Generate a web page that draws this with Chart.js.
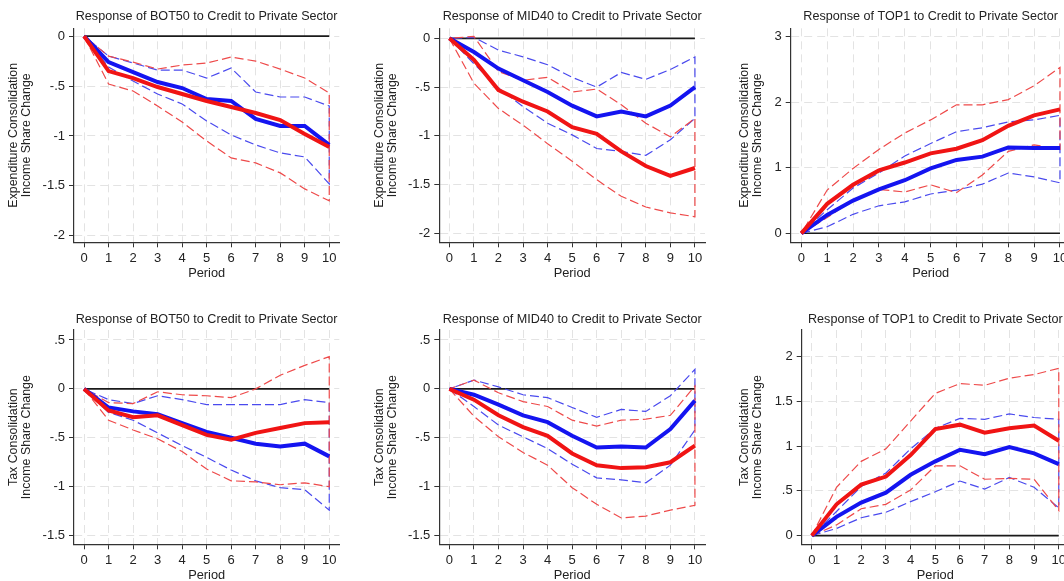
<!DOCTYPE html>
<html>
<head>
<meta charset="utf-8">
<script src="https://cdn.jsdelivr.net/npm/chart.js@4"></script>
<style>
  html, body { margin: 0; padding: 0; background: #fff; width: 1064px; height: 581px; overflow: hidden; }
  .panel { position: absolute; }
</style>
</head>
<body>
<canvas class="panel" id="p1"></canvas>
<canvas class="panel" id="p2"></canvas>
<canvas class="panel" id="p3"></canvas>
<canvas class="panel" id="p4"></canvas>
<canvas class="panel" id="p5"></canvas>
<canvas class="panel" id="p6"></canvas>
<script>
// periodes de la reponse impulsionnelle
var periods = [0, 1, 2, 3, 4, 5, 6, 7, 8, 9, 10];
var xTicks = [0, 1, 2, 3, 4, 5, 6, 7, 8, 9, 10];

// graduations y
var yTicksExp = [0, -0.5, -1, -1.5, -2];
var yLabelsExp = ['0', '-.5', '-1', '-1.5', '-2'];
var yTicksExpTop1 = [0, 1, 2, 3];
var yLabelsExpTop1 = ['0', '1', '2', '3'];
var yTicksTax = [0.5, 0, -0.5, -1, -1.5];
var yLabelsTax = ['.5', '0', '-.5', '-1', '-1.5'];
var yTicksTaxTop1 = [0, 0.5, 1, 1.5, 2];
var yLabelsTaxTop1 = ['0', '.5', '1', '1.5', '2'];

// Expenditure consolidation - BOT50
var expBot50Blue   = [0, -0.26, -0.36, -0.46, -0.52, -0.63, -0.65, -0.83, -0.90, -0.90, -1.09];
var expBot50BlueHi = [0, -0.20, -0.27, -0.34, -0.34, -0.42, -0.32, -0.56, -0.61, -0.61, -0.70];
var expBot50BlueLo = [0, -0.31, -0.45, -0.58, -0.68, -0.85, -0.99, -1.09, -1.17, -1.21, -1.48];
var expBot50Red    = [0, -0.35, -0.42, -0.51, -0.58, -0.65, -0.71, -0.77, -0.84, -0.98, -1.11];
var expBot50RedHi  = [0, -0.20, -0.26, -0.33, -0.29, -0.27, -0.21, -0.25, -0.33, -0.42, -0.57];
var expBot50RedLo  = [0, -0.48, -0.55, -0.70, -0.86, -1.05, -1.22, -1.27, -1.37, -1.53, -1.65];

// Expenditure consolidation - MID40
var expMid40Blue   = [0, -0.14, -0.31, -0.43, -0.55, -0.69, -0.80, -0.75, -0.80, -0.69, -0.50];
var expMid40BlueHi = [0, 0.01, -0.12, -0.19, -0.27, -0.40, -0.50, -0.35, -0.42, -0.32, -0.19];
var expMid40BlueLo = [0, -0.26, -0.51, -0.70, -0.87, -0.99, -1.13, -1.16, -1.20, -1.04, -0.82];
var expMid40Red    = [0, -0.22, -0.53, -0.65, -0.75, -0.91, -0.98, -1.16, -1.31, -1.41, -1.33];
var expMid40RedHi  = [0, 0.02, -0.34, -0.43, -0.40, -0.55, -0.52, -0.68, -0.87, -1.01, -0.82];
var expMid40RedLo  = [0, -0.46, -0.72, -0.89, -1.08, -1.26, -1.45, -1.62, -1.73, -1.79, -1.83];

// Expenditure consolidation - TOP1
var expTop1Blue   = [0, 0.28, 0.50, 0.67, 0.81, 0.99, 1.12, 1.17, 1.31, 1.30, 1.30];
var expTop1BlueHi = [0, 0.36, 0.69, 0.92, 1.18, 1.37, 1.55, 1.61, 1.70, 1.73, 1.80];
var expTop1BlueLo = [0, 0.10, 0.29, 0.42, 0.48, 0.60, 0.66, 0.75, 0.92, 0.86, 0.77];
var expTop1Red    = [0, 0.45, 0.74, 0.96, 1.08, 1.22, 1.29, 1.42, 1.64, 1.80, 1.89];
var expTop1RedHi  = [0, 0.66, 0.99, 1.28, 1.53, 1.73, 1.96, 1.96, 2.04, 2.25, 2.53];
var expTop1RedLo  = [0, 0.24, 0.51, 0.67, 0.63, 0.74, 0.62, 0.89, 1.25, 1.35, 1.28];

// Tax consolidation - BOT50
var taxBot50Blue   = [0, -0.19, -0.23, -0.26, -0.35, -0.44, -0.50, -0.56, -0.59, -0.56, -0.69];
var taxBot50BlueHi = [0, -0.11, -0.15, -0.07, -0.11, -0.16, -0.16, -0.16, -0.16, -0.11, -0.14];
var taxBot50BlueLo = [0, -0.24, -0.32, -0.45, -0.58, -0.70, -0.83, -0.94, -1.01, -1.03, -1.24];
var taxBot50Red    = [0, -0.22, -0.29, -0.27, -0.37, -0.47, -0.52, -0.45, -0.40, -0.35, -0.34];
var taxBot50RedHi  = [0, -0.14, -0.15, -0.03, -0.06, -0.07, -0.09, 0.00, 0.14, 0.24, 0.33];
var taxBot50RedLo  = [0, -0.32, -0.42, -0.51, -0.64, -0.82, -0.94, -0.95, -0.98, -0.96, -1.00];

// Tax consolidation - MID40
var taxMid40Blue   = [0, -0.06, -0.16, -0.27, -0.34, -0.48, -0.60, -0.59, -0.60, -0.41, -0.12];
var taxMid40BlueHi = [0, 0.09, 0.02, -0.06, -0.09, -0.19, -0.29, -0.21, -0.23, -0.07, 0.20];
var taxMid40BlueLo = [0, -0.18, -0.37, -0.49, -0.61, -0.77, -0.91, -0.93, -0.96, -0.78, -0.42];
var taxMid40Red    = [0, -0.11, -0.27, -0.39, -0.48, -0.66, -0.78, -0.81, -0.80, -0.75, -0.58];
var taxMid40RedHi  = [0, 0.09, -0.04, -0.13, -0.18, -0.32, -0.38, -0.32, -0.31, -0.27, 0.03];
var taxMid40RedLo  = [0, -0.28, -0.49, -0.65, -0.78, -1.01, -1.18, -1.32, -1.30, -1.24, -1.19];

// Tax consolidation - TOP1
var taxTop1Blue   = [0, 0.21, 0.37, 0.48, 0.68, 0.83, 0.96, 0.91, 0.99, 0.92, 0.80];
var taxTop1BlueHi = [0, 0.27, 0.55, 0.70, 0.97, 1.20, 1.31, 1.30, 1.36, 1.32, 1.30];
var taxTop1BlueLo = [0, 0.08, 0.20, 0.26, 0.38, 0.49, 0.61, 0.52, 0.65, 0.54, 0.31];
var taxTop1Red    = [0, 0.35, 0.57, 0.66, 0.90, 1.19, 1.24, 1.15, 1.20, 1.23, 1.06];
var taxTop1RedHi  = [0, 0.54, 0.83, 0.97, 1.28, 1.59, 1.70, 1.68, 1.76, 1.80, 1.87];
var taxTop1RedLo  = [0, 0.12, 0.30, 0.35, 0.51, 0.78, 0.78, 0.63, 0.64, 0.63, 0.28];

var FONT = "'Liberation Sans', Arial, sans-serif";
var TXT = '#222';

function pts(vals) {
  return vals.map(function (v, i) { return { x: periods[i], y: v }; });
}
// bande : borne basse puis borne haute a l'envers (trace le trait vertical en 10)
function band(lo, hi) {
  return pts(lo).concat(pts(hi).reverse());
}

function panel(id, p) {
  var cv = document.getElementById(id);
  cv.width = p.box.w; cv.height = p.box.h;
  cv.style.left = p.box.x + 'px'; cv.style.top = p.box.y + 'px';
  cv.style.width = p.box.w + 'px'; cv.style.height = p.box.h + 'px';

  var last = periods[periods.length - 1];
  new Chart(cv.getContext('2d'), {
    type: 'line',
    data: {
      datasets: [
        { data: pts(p.red), borderColor: '#f01414', borderWidth: 4 },
        { data: pts(p.blue), borderColor: '#1414f0', borderWidth: 4 },
        { data: band(p.redLo, p.redHi), borderColor: '#ee4a4a', borderWidth: 1.2, borderDash: [9, 4] },
        { data: band(p.blueLo, p.blueHi), borderColor: '#4a4aee', borderWidth: 1.2, borderDash: [9, 4] },
        { data: [{ x: periods[0], y: 0 }, { x: last, y: 0 }], borderColor: '#1a1a1a', borderWidth: 1.6 }
      ]
    },
    options: {
      responsive: false,
      animation: false,
      elements: { point: { radius: 0 }, line: { tension: 0, fill: false } },
      layout: { padding: { left: 0, top: 0, bottom: 0, right: p.box.x + p.box.w - p.area.r } },
      plugins: {
        legend: { display: false },
        tooltip: { enabled: false },
        title: {
          display: true,
          text: p.title,
          fullSize: false,
          color: TXT,
          font: { family: FONT, size: 12.6, weight: 'normal', lineHeight: 1.2 },
          padding: { top: p.titleY - p.box.y - 7.6, bottom: p.area.t - p.titleY - 7.5 }
        }
      },
      scales: {
        x: {
          type: 'linear',
          min: -0.41,
          max: 10.41,
          afterBuildTicks: function (s) { s.ticks = xTicks.map(function (v) { return { value: v }; }); },
          afterFit: function (s) { s.height = p.box.y + p.box.h - p.area.b; },
          ticks: { color: TXT, font: { family: FONT, size: 13 }, padding: 3, maxRotation: 0, autoSkip: false,
                   callback: function (v) { return String(v); } },
          grid: { color: '#e3e3e3', lineWidth: 1, tickColor: '#333', tickLength: 5, tickWidth: 1 },
          border: { color: '#333', width: 1.2, dash: [8, 5] },
          title: { display: true, text: 'Period', color: TXT, font: { family: FONT, size: 12.8, lineHeight: 1.2 },
                   padding: { top: 0, bottom: p.box.y + p.box.h - p.periodY - 7.7 } }
        },
        y: {
          type: 'linear',
          min: p.yMin,
          max: p.yMax,
          afterBuildTicks: function (s) { s.ticks = p.yTicks.map(function (v) { return { value: v }; }); },
          afterFit: function (s) { s.width = p.area.l - p.box.x; },
          ticks: { color: TXT, font: { family: FONT, size: 13 }, padding: 4,
                   callback: function (v, i) { return p.yLabels[i]; } },
          grid: { color: '#e3e3e3', lineWidth: 1, tickColor: '#333', tickLength: 5, tickWidth: 1 },
          border: { color: '#333', width: 1.2, dash: [8, 5] },
          title: { display: true, text: p.yTitle, color: TXT, font: { family: FONT, size: 12.4, lineHeight: 1.03 },
                   padding: { top: p.yTitleX - p.box.x - 6.4, bottom: 0 } }
        }
      }
    }
  });
}

var expTitle = ['Expenditure Consolidation', 'Income Share Change'];
var taxTitle = ['Tax Consolidation', 'Income Share Change'];

panel('p1', { box: { x: 0, y: 0, w: 355, h: 290 }, area: { l: 74, t: 28.3, r: 339.3, b: 242.3 },
  titleY: 17, periodY: 273, yTitleX: 14, title: 'Response of BOT50 to Credit to Private Sector', yTitle: expTitle,
  yMin: -2.065, yMax: 0.078, yTicks: yTicksExp, yLabels: yLabelsExp,
  blue: expBot50Blue, blueHi: expBot50BlueHi, blueLo: expBot50BlueLo, red: expBot50Red, redHi: expBot50RedHi, redLo: expBot50RedLo });

panel('p2', { box: { x: 355, y: 0, w: 355, h: 290 }, area: { l: 439.3, t: 28.3, r: 705, b: 242.3 },
  titleY: 17, periodY: 273, yTitleX: 380, title: 'Response of MID40 to Credit to Private Sector', yTitle: expTitle,
  yMin: -2.092, yMax: 0.103, yTicks: yTicksExp, yLabels: yLabelsExp,
  blue: expMid40Blue, blueHi: expMid40BlueHi, blueLo: expMid40BlueLo, red: expMid40Red, redHi: expMid40RedHi, redLo: expMid40RedLo });

panel('p3', { box: { x: 710, y: 0, w: 366, h: 290 }, area: { l: 790.7, t: 28.3, r: 1070.6, b: 242.3 },
  titleY: 17, periodY: 273, yTitleX: 745, title: 'Response of TOP1 to Credit to Private Sector', yTitle: expTitle,
  yMin: -0.137, yMax: 3.127, yTicks: yTicksExpTop1, yLabels: yLabelsExpTop1,
  blue: expTop1Blue, blueHi: expTop1BlueHi, blueLo: expTop1BlueLo, red: expTop1Red, redHi: expTop1RedHi, redLo: expTop1RedLo });

panel('p4', { box: { x: 0, y: 295, w: 355, h: 290 }, area: { l: 74, t: 330, r: 339.3, b: 544.3 },
  titleY: 320, periodY: 575, yTitleX: 14, title: 'Response of BOT50 to Credit to Private Sector', yTitle: taxTitle,
  yMin: -1.589, yMax: 0.602, yTicks: yTicksTax, yLabels: yLabelsTax,
  blue: taxBot50Blue, blueHi: taxBot50BlueHi, blueLo: taxBot50BlueLo, red: taxBot50Red, redHi: taxBot50RedHi, redLo: taxBot50RedLo });

panel('p5', { box: { x: 355, y: 295, w: 355, h: 290 }, area: { l: 439.3, t: 330, r: 705, b: 544.3 },
  titleY: 320, periodY: 575, yTitleX: 380, title: 'Response of MID40 to Credit to Private Sector', yTitle: taxTitle,
  yMin: -1.589, yMax: 0.602, yTicks: yTicksTax, yLabels: yLabelsTax,
  blue: taxMid40Blue, blueHi: taxMid40BlueHi, blueLo: taxMid40BlueLo, red: taxMid40Red, redHi: taxMid40RedHi, redLo: taxMid40RedLo });

panel('p6', { box: { x: 710, y: 295, w: 366, h: 290 }, area: { l: 801.7, t: 330, r: 1068.9, b: 544.3 },
  titleY: 320, periodY: 575, yTitleX: 745, title: 'Response of TOP1 to Credit to Private Sector', yTitle: taxTitle,
  yMin: -0.097, yMax: 2.298, yTicks: yTicksTaxTop1, yLabels: yLabelsTaxTop1,
  blue: taxTop1Blue, blueHi: taxTop1BlueHi, blueLo: taxTop1BlueLo, red: taxTop1Red, redHi: taxTop1RedHi, redLo: taxTop1RedLo });
</script>
</body>
</html>
